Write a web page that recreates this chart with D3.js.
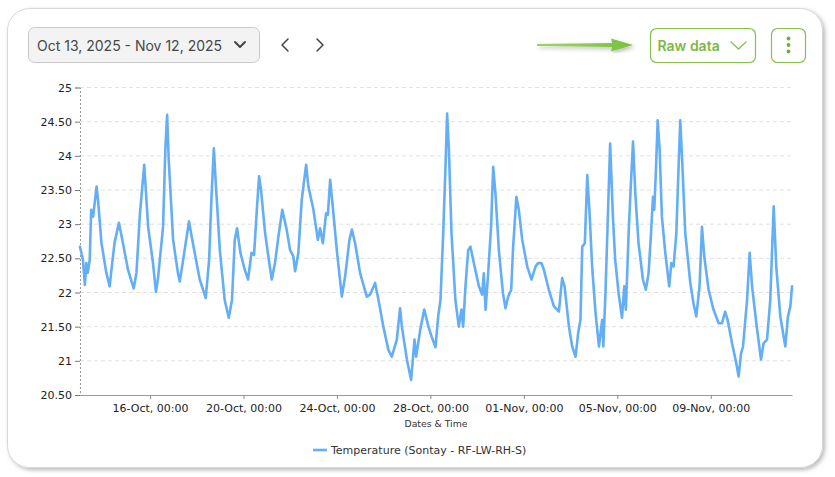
<!DOCTYPE html>
<html>
<head>
<meta charset="utf-8">
<script src="https://cdn.jsdelivr.net/npm/d3@7"></script>
<style>
  html, body { margin: 0; padding: 0; background: #fff; }
  svg { display: block; }
</style>
</head>
<body>
<svg id="chart" width="835" height="477"></svg>
<script>
// readings taken off the chart (local time, °C)
const times = [
  "2025-10-13 00:00","2025-10-13 03:00","2025-10-13 05:00","2025-10-13 06:30","2025-10-13 08:00","2025-10-13 10:00",
  "2025-10-13 11:30","2025-10-13 13:30","2025-10-13 17:00","2025-10-13 18:30","2025-10-13 22:00","2025-10-14 03:00",
  "2025-10-14 06:30","2025-10-14 08:00","2025-10-14 11:30","2025-10-14 16:00","2025-10-14 20:00","2025-10-15 01:20",
  "2025-10-15 07:10","2025-10-15 10:00","2025-10-15 13:30","2025-10-15 18:00","2025-10-15 22:00","2025-10-16 03:00",
  "2025-10-16 06:00","2025-10-16 08:00","2025-10-16 13:20","2025-10-16 15:40","2025-10-16 17:30","2025-10-16 19:10",
  "2025-10-16 23:40","2025-10-17 04:40","2025-10-17 06:30","2025-10-17 10:00","2025-10-17 16:00","2025-10-17 20:00",
  "2025-10-18 03:00","2025-10-18 09:10","2025-10-18 12:40","2025-10-18 15:00","2025-10-18 17:30","2025-10-18 19:30",
  "2025-10-18 23:40","2025-10-19 04:40","2025-10-19 08:50","2025-10-19 12:10","2025-10-19 15:00","2025-10-19 17:20",
  "2025-10-19 20:50","2025-10-20 01:20","2025-10-20 04:40","2025-10-20 08:10","2025-10-20 10:50","2025-10-20 13:40",
  "2025-10-20 16:00","2025-10-20 18:00","2025-10-20 22:10","2025-10-21 01:30","2025-10-21 05:00","2025-10-21 08:20",
  "2025-10-21 11:50","2025-10-21 15:50","2025-10-21 20:20","2025-10-21 23:50","2025-10-22 03:10","2025-10-22 05:00",
  "2025-10-22 08:20","2025-10-22 11:50","2025-10-22 16:20","2025-10-22 18:40","2025-10-22 23:50","2025-10-23 04:20",
  "2025-10-23 06:40","2025-10-23 09:30","2025-10-23 12:50","2025-10-23 14:40","2025-10-23 17:00","2025-10-23 19:40",
  "2025-10-23 23:50","2025-10-24 05:00","2025-10-24 08:20","2025-10-24 12:50","2025-10-24 15:20","2025-10-24 18:40",
  "2025-10-24 23:50","2025-10-25 06:40","2025-10-25 10:00","2025-10-25 15:10","2025-10-25 18:40","2025-10-25 23:40",
  "2025-10-26 04:50","2025-10-26 08:20","2025-10-26 13:30","2025-10-26 16:50","2025-10-26 18:40","2025-10-26 23:50",
  "2025-10-27 04:10","2025-10-27 07:40","2025-10-27 09:20","2025-10-27 13:30","2025-10-27 17:40","2025-10-27 22:00",
  "2025-10-28 01:20","2025-10-28 05:10","2025-10-28 08:00","2025-10-28 10:20","2025-10-28 13:10","2025-10-28 15:30",
  "2025-10-28 17:10","2025-10-28 19:00","2025-10-28 21:40","2025-10-29 01:40","2025-10-29 05:10","2025-10-29 07:50",
  "2025-10-29 09:40","2025-10-29 12:00","2025-10-29 14:50","2025-10-29 17:10","2025-10-29 20:40","2025-10-30 01:50",
  "2025-10-30 05:10","2025-10-30 06:50","2025-10-30 08:40","2025-10-30 11:20","2025-10-30 14:20","2025-10-30 16:30",
  "2025-10-30 18:50","2025-10-30 22:20","2025-10-31 02:30","2025-10-31 05:10","2025-10-31 07:50","2025-10-31 11:00",
  "2025-10-31 13:00","2025-10-31 16:20","2025-10-31 18:50","2025-10-31 22:20","2025-11-01 03:30","2025-11-01 07:50",
  "2025-11-01 12:00","2025-11-01 14:40","2025-11-01 18:10","2025-11-01 20:40","2025-11-02 01:40","2025-11-02 06:50",
  "2025-11-02 12:00","2025-11-02 15:20","2025-11-02 17:50","2025-11-02 22:20","2025-11-03 01:40","2025-11-03 05:10",
  "2025-11-03 07:50","2025-11-03 10:10","2025-11-03 12:00","2025-11-03 14:40","2025-11-03 17:10","2025-11-03 19:20",
  "2025-11-03 22:10","2025-11-04 01:40","2025-11-04 05:10","2025-11-04 06:50","2025-11-04 08:30","2025-11-04 09:40",
  "2025-11-04 11:50","2025-11-04 14:20","2025-11-04 16:40","2025-11-04 19:30","2025-11-04 21:50","2025-11-05 01:20",
  "2025-11-05 04:50","2025-11-05 07:10","2025-11-05 08:50","2025-11-05 11:40","2025-11-05 14:00","2025-11-05 16:10",
  "2025-11-05 18:30","2025-11-05 21:50","2025-11-06 02:20","2025-11-06 05:20","2025-11-06 08:10","2025-11-06 10:40",
  "2025-11-06 12:40","2025-11-06 14:00","2025-11-06 15:50","2025-11-06 17:30","2025-11-06 19:30","2025-11-06 21:50",
  "2025-11-07 01:20","2025-11-07 05:20","2025-11-07 07:30","2025-11-07 09:50","2025-11-07 12:40","2025-11-07 15:00",
  "2025-11-07 16:40","2025-11-07 18:30","2025-11-07 21:50","2025-11-08 03:00","2025-11-08 06:20","2025-11-08 09:10",
  "2025-11-08 12:30","2025-11-08 15:00","2025-11-08 17:20","2025-11-08 21:50","2025-11-09 02:50","2025-11-09 08:10",
  "2025-11-09 11:30","2025-11-09 14:50","2025-11-09 17:20","2025-11-09 21:50","2025-11-10 02:10","2025-11-10 04:40",
  "2025-11-10 07:10","2025-11-10 09:10","2025-11-10 13:20","2025-11-10 16:00","2025-11-10 18:30","2025-11-10 22:50",
  "2025-11-11 03:40","2025-11-11 06:20","2025-11-11 09:50","2025-11-11 13:10","2025-11-11 16:40","2025-11-11 19:20",
  "2025-11-11 23:30","2025-11-12 04:40","2025-11-12 07:20","2025-11-12 09:50","2025-11-12 11:30"
];
const temps = [
  22.67,22.48,22.11,22.43,22.29,22.48,
  23.21,23.11,23.55,23.36,22.73,22.29,
  22.09,22.29,22.73,23.02,22.73,22.33,
  22.06,22.29,23.14,23.87,22.96,22.43,
  22.01,22.19,22.96,24.09,24.60,23.94,
  22.77,22.28,22.16,22.48,23.04,22.72,
  22.19,21.92,22.48,23.36,24.11,23.60,
  22.62,21.89,21.63,21.89,22.77,22.94,
  22.58,22.33,22.19,22.58,22.55,23.21,
  23.70,23.50,22.87,22.53,22.19,22.43,
  22.82,23.21,22.92,22.62,22.53,22.31,
  22.58,23.36,23.87,23.55,23.21,22.77,
  22.94,22.72,23.16,23.14,23.65,23.26,
  22.62,21.94,22.23,22.77,22.92,22.72,
  22.28,21.94,21.97,22.14,21.89,21.50,
  21.16,21.06,21.31,21.77,21.50,21.02,
  20.72,21.31,21.06,21.45,21.75,21.50,
  21.35,21.20,21.65,21.89,22.87,23.84,
  24.62,24.09,22.87,21.89,21.50,21.75,
  21.50,22.09,22.62,22.67,22.43,22.09,
  21.97,22.28,21.75,22.28,22.96,23.84,
  23.45,22.62,21.99,21.77,21.94,22.04,
  22.67,23.40,23.21,22.77,22.38,22.19,
  22.38,22.43,22.43,22.33,22.04,21.80,
  21.72,22.21,22.09,21.50,21.21,21.06,
  21.41,21.60,22.67,22.72,23.72,23.21,
  22.38,21.70,21.21,21.41,21.60,21.21,
  21.99,23.11,24.18,23.11,22.48,21.99,
  21.63,22.09,21.75,22.87,23.60,24.21,
  23.45,22.72,22.19,22.04,22.28,22.87,
  23.40,23.21,23.84,24.52,24.09,23.11,
  22.58,22.09,22.43,22.38,22.87,23.84,
  24.52,23.99,22.87,22.14,21.84,21.65,
  22.09,22.96,22.53,22.04,21.75,21.55,
  21.55,21.72,21.60,21.26,20.97,20.77,
  21.11,21.21,21.89,22.58,22.09,21.55,
  21.02,21.26,21.31,21.89,23.26,22.38,
  21.65,21.21,21.65,21.80,22.09
];
const yTicks = [20.5, 21, 21.5, 22, 22.5, 23, 23.5, 24, 24.5, 25];
const xTicks = ["2025-10-16 00:00","2025-10-20 00:00","2025-10-24 00:00","2025-10-28 00:00",
                "2025-11-01 00:00","2025-11-05 00:00","2025-11-09 00:00"];
const seriesName = "Temperature (Sontay - RF-LW-RH-S)";
const rangeLabel = "Oct 13, 2025 - Nov 12, 2025";

const parse = d3.timeParse("%Y-%m-%d %H:%M");
const data = times.map((t, i) => ({ d: parse(t), v: temps[i] }));

const svg = d3.select("#chart");
const green = "#86c04b";
const lineColor = "#64aef5";
const axisFont = "'DejaVu Sans', Verdana, sans-serif";

// card
const defs = svg.append("defs");
const shadow = defs.append("filter").attr("id", "shadow")
	.attr("x", "-5%").attr("y", "-5%").attr("width", "110%").attr("height", "112%");
shadow.append("feDropShadow")
	.attr("dx", 2).attr("dy", 2).attr("stdDeviation", 2.2)
	.attr("flood-color", "#000").attr("flood-opacity", 0.28);

svg.append("rect")
	.attr("x", 7.5).attr("y", 8.5).attr("width", 815).attr("height", 459)
	.attr("rx", 22)
	.attr("fill", "#fff").attr("stroke", "#d8d8d8")
	.attr("filter", "url(#shadow)");

// header: date range picker
const head = svg.append("g");
head.append("rect")
	.attr("x", 28.5).attr("y", 27.5).attr("width", 231).attr("height", 35).attr("rx", 6)
	.attr("fill", "#f3f3f3").attr("stroke", "#c9c9c9");
head.append("text")
	.attr("x", 37).attr("y", 50.5)
	.attr("font-family", "Inter, 'Noto Sans', sans-serif").attr("font-size", 14)
	.attr("fill", "#474747")
	.text(rangeLabel);
head.append("path")
	.attr("d", "M235,42 L240,47 L245,42")
	.attr("fill", "none").attr("stroke", "#444").attr("stroke-width", 2)
	.attr("stroke-linecap", "round").attr("stroke-linejoin", "round");
head.append("path")
	.attr("d", "M288,39 L282,45 L288,51")
	.attr("fill", "none").attr("stroke", "#444").attr("stroke-width", 1.5)
	.attr("stroke-linecap", "round").attr("stroke-linejoin", "round");
head.append("path")
	.attr("d", "M317,39 L323,45 L317,51")
	.attr("fill", "none").attr("stroke", "#444").attr("stroke-width", 1.5)
	.attr("stroke-linecap", "round").attr("stroke-linejoin", "round");

// green pointer arrow
const arrowGrad = defs.append("linearGradient").attr("id", "arrowGrad");
arrowGrad.append("stop").attr("offset", "0%").attr("stop-color", "#9fd26a");
arrowGrad.append("stop").attr("offset", "100%").attr("stop-color", "#79c23e");
head.append("path")
	.attr("d", "M537,44 L612,43 L611,38.5 L633,45 L611,51.5 L612,47 L537,46 Z")
	.attr("fill", "url(#arrowGrad)")
	.attr("filter", "url(#shadow)");

// raw data button
head.append("rect")
	.attr("x", 650.5).attr("y", 28.5).attr("width", 105).attr("height", 34).attr("rx", 6)
	.attr("fill", "#fff").attr("stroke", green).attr("stroke-width", 1.2);
head.append("text")
	.attr("x", 657.5).attr("y", 51)
	.attr("font-family", "Inter, 'Noto Sans', sans-serif").attr("font-size", 14)
	.attr("font-weight", 600).attr("fill", "#7ab945")
	.text("Raw data");
head.append("path")
	.attr("d", "M731,42 L738.5,49 L746,42")
	.attr("fill", "none").attr("stroke", green).attr("stroke-width", 1.3)
	.attr("stroke-linecap", "round").attr("stroke-linejoin", "round");

// kebab button
head.append("rect")
	.attr("x", 771.5).attr("y", 28.5).attr("width", 34).attr("height", 34).attr("rx", 6)
	.attr("fill", "#fff").attr("stroke", green).attr("stroke-width", 1.2);
head.selectAll(".dot")
	.data([38.5, 45, 51.5])
	.join("circle")
	.attr("class", "dot")
	.attr("cx", 788.5).attr("cy", d => d).attr("r", 1.9)
	.attr("fill", "#6fae3c");

// plot
const margin = { left: 80, right: 792, top: 87.5, bottom: 395 };

const x = d3.scaleTime()
	.domain(d3.extent(data, d => d.d))
	.range([margin.left, margin.right]);
const y = d3.scaleLinear()
	.domain([yTicks[0], yTicks[yTicks.length - 1]])
	.range([margin.bottom, margin.top]);

const yFmt = v => Number.isInteger(v) ? String(v) : v.toFixed(2);
const xFmt = d3.timeFormat("%d-%b, %H:%M");

// grid lines
svg.append("g")
	.selectAll("line")
	.data(yTicks.slice(1))
	.join("line")
	.attr("x1", margin.left).attr("x2", margin.right)
	.attr("y1", d => y(d)).attr("y2", d => y(d))
	.attr("stroke", "#e0e0e0").attr("stroke-dasharray", "4,3");

// y axis
const gY = svg.append("g")
	.attr("transform", `translate(${margin.left},0)`)
	.call(d3.axisLeft(y).tickValues(yTicks).tickFormat(yFmt).tickSize(5).tickPadding(3));
gY.select(".domain").attr("stroke", "#999").attr("stroke-dasharray", "2,2");
gY.selectAll(".tick line").attr("stroke", "#777");
gY.selectAll(".tick text")
	.attr("font-family", axisFont).attr("font-size", 11)
	.attr("fill", "#222");

// x axis
const gX = svg.append("g")
	.attr("transform", `translate(0,${margin.bottom})`)
	.call(d3.axisBottom(x).tickValues(xTicks.map(parse)).tickFormat(xFmt).tickSize(4).tickSizeOuter(0).tickPadding(5));
gX.select(".domain").attr("stroke", "#9a9a9a");
gX.selectAll(".tick line").attr("stroke", "#888");
gX.selectAll(".tick text")
	.attr("font-family", axisFont).attr("font-size", 11)
	.attr("fill", "#222");

svg.append("text")
	.attr("x", (margin.left + margin.right) / 2).attr("y", 426.5)
	.attr("text-anchor", "middle")
	.attr("font-family", axisFont).attr("font-size", 9.3)
	.attr("fill", "#333")
	.text("Dates & Time");

// series
const line = d3.line()
	.x(d => x(d.d))
	.y(d => y(d.v));

svg.append("path")
	.datum(data)
	.attr("fill", "none")
	.attr("stroke", lineColor)
	.attr("stroke-width", 2.6)
	.attr("stroke-linejoin", "round")
	.attr("stroke-linecap", "round")
	.attr("d", line);

// legend
const legend = svg.append("g").attr("transform", "translate(313,450)");
legend.append("line")
	.attr("x1", 0).attr("x2", 14)
	.attr("stroke", lineColor).attr("stroke-width", 2.6);
legend.append("text")
	.attr("x", 18).attr("y", 4)
	.attr("font-family", axisFont).attr("font-size", 11)
	.attr("fill", "#333")
	.text(seriesName);
</script>
</body>
</html>
